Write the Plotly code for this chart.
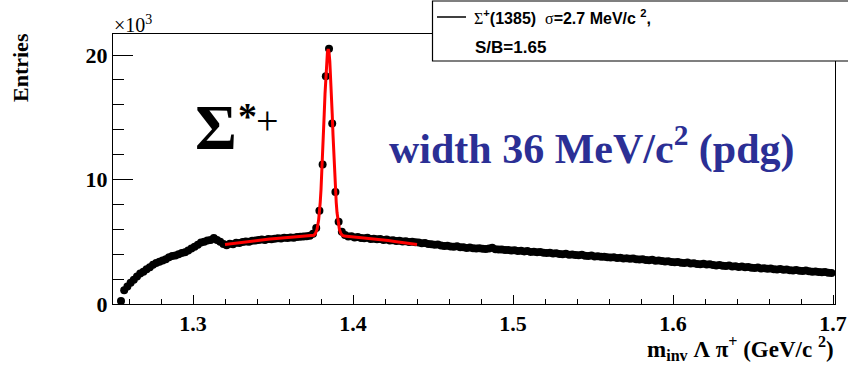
import plotly.graph_objects as go

# ---------------- data (entries in units of 10^3) ----------------
bin_first = 1.255   # GeV/c^2, centre of first bin
bin_width = 0.002   # GeV/c^2

counts_k = [
    # 1.255 - 1.313
    0.25, 1.10, 1.40, 1.70, 1.95, 2.20, 2.45, 2.60, 2.80, 2.95,
    3.15, 3.30, 3.40, 3.50, 3.60, 3.75, 3.85, 3.90, 4.00, 4.10,
    4.15, 4.30, 4.45, 4.60, 4.75, 4.95, 5.00, 5.10, 5.15, 5.30,
    # 1.315 - 1.373
    5.15, 5.00, 4.82, 4.72, 4.85, 4.80, 4.92, 4.90, 4.98, 5.02,
    5.00, 5.08, 5.10, 5.14, 5.18, 5.15, 5.22, 5.20, 5.25, 5.28,
    5.26, 5.32, 5.30, 5.35, 5.33, 5.38, 5.40, 5.42, 5.45, 5.48,
    # 1.375 - 1.393 (peak)
    5.65, 6.10, 7.50, 11.2, 18.3, 20.5, 14.5, 9.00, 6.60, 5.80,
    # 1.395 - 1.439
    5.55, 5.42, 5.45, 5.35, 5.38, 5.30, 5.28, 5.32, 5.22, 5.25,
    5.20, 5.22, 5.15, 5.18, 5.10, 5.12, 5.06, 5.08, 5.02, 5.04,
    4.98, 5.00, 4.96,
    # 1.441 - 1.699
    4.95, 4.88, 4.90, 4.82, 4.80, 4.76, 4.78, 4.70, 4.66, 4.68,
    4.62, 4.60, 4.64, 4.56, 4.55, 4.50, 4.53, 4.48, 4.46, 4.47,
    4.44, 4.42, 4.45, 4.52, 4.40, 4.37, 4.38, 4.34, 4.33, 4.30,
    4.32, 4.26, 4.28, 4.22, 4.25, 4.18, 4.20, 4.15, 4.17, 4.12,
    4.10, 4.12, 4.05, 4.08, 4.02, 4.00, 4.03, 3.96, 3.98, 3.93,
    3.92, 3.95, 3.88, 3.86, 3.89, 3.82, 3.84, 3.79, 3.80, 3.76,
    3.74, 3.76, 3.70, 3.72, 3.66, 3.68, 3.63, 3.65, 3.60, 3.58,
    3.60, 3.54, 3.52, 3.55, 3.48, 3.50, 3.45, 3.42, 3.44, 3.38,
    3.36, 3.38, 3.32, 3.30, 3.33, 3.26, 3.28, 3.22, 3.20, 3.23,
    3.17, 3.19, 3.13, 3.10, 3.14, 3.08, 3.06, 3.09, 3.02, 3.04,
    2.98, 3.01, 2.95, 2.97, 2.92, 2.90, 2.93, 2.86, 2.88, 2.83,
    2.85, 2.80, 2.78, 2.81, 2.75, 2.77, 2.72, 2.70, 2.73, 2.68,
    2.66, 2.69, 2.63, 2.60, 2.62, 2.57, 2.55, 2.58, 2.52, 2.50,
]
mass = [round(bin_first + i * bin_width, 4) for i in range(len(counts_k))]

# fit curve (Gaussian + background)
fit_mass = [
    1.320, 1.324, 1.328, 1.332, 1.336, 1.340, 1.344, 1.348, 1.352, 1.356,
    1.360, 1.364, 1.368, 1.372, 1.3745, 1.3755, 1.3765, 1.3775, 1.3785,
    1.379, 1.3795, 1.380, 1.3805, 1.381, 1.3815, 1.382, 1.3825, 1.383,
    1.3835, 1.384, 1.3845, 1.385, 1.3855, 1.386, 1.3865, 1.387, 1.3875,
    1.388, 1.3885, 1.389, 1.3895, 1.390, 1.3905, 1.3915, 1.3925, 1.3935,
    1.3945, 1.398, 1.402, 1.406, 1.410, 1.414, 1.418, 1.422, 1.426, 1.430,
    1.434, 1.438, 1.440,
]
fit_k = [
    4.78, 4.85, 4.92, 4.99, 5.05, 5.11, 5.17, 5.22, 5.27, 5.31,
    5.35, 5.38, 5.41, 5.44, 5.47, 5.52, 5.66, 5.99, 6.74,
    7.35, 8.17, 9.21, 10.49, 11.96, 13.57, 15.25, 16.88, 18.34,
    19.48, 20.22, 20.48, 20.22, 19.48, 18.34, 16.88, 15.25, 13.57,
    11.95, 10.48, 9.21, 8.17, 7.35, 6.74, 5.98, 5.65, 5.51,
    5.46, 5.42, 5.38, 5.34, 5.29, 5.23, 5.17, 5.10, 5.03, 4.96,
    4.89, 4.82, 4.78,
]

x_ticks = [1.3, 1.4, 1.5, 1.6, 1.7]
y_ticks = [0, 10, 20]

# ---------------- figure ----------------
W, H = 848, 365
L, R, T, B = 113, 13, 34, 61
PW, PH = W - L - R, H - T - B

def px(x):
    return (x - L) / PW

def py(y):
    return (H - B - y) / PH

SERIF = "Liberation Serif"
SANS = "Liberation Sans"

fig = go.Figure()
fig.add_trace(go.Scatter(
    x=mass, y=counts_k, mode="markers",
    marker=dict(color="black", size=8, line=dict(width=0)),
    showlegend=False, hoverinfo="skip", cliponaxis=False))
fig.add_trace(go.Scatter(
    x=fit_mass, y=fit_k, mode="lines",
    line=dict(color="#ff0000", width=3),
    showlegend=False, hoverinfo="skip"))

axis_common = dict(
    showgrid=False, zeroline=False, showline=True, linecolor="black",
    linewidth=1, mirror=True, ticks="inside", tickcolor="black",
    tickwidth=1, automargin=False,
    tickfont=dict(family=SERIF, size=22, color="black", weight="bold"),
)

fig.update_xaxes(
    range=[1.25, 1.7012], tickvals=x_ticks,
    ticktext=[f"{v:.1f}" for v in x_ticks], ticklen=9,
    minor=dict(dtick=0.02, tick0=1.3, ticklen=5, ticks="inside",
               tickcolor="black", tickwidth=1),
    **axis_common)
fig.update_yaxes(
    range=[0, 21.69], tickvals=y_ticks,
    ticktext=[str(v) for v in y_ticks], ticklen=20,
    minor=dict(dtick=2, tick0=0, ticklen=11, ticks="inside",
               tickcolor="black", tickwidth=1),
    **axis_common)

fig.update_layout(
    width=W, height=H, margin=dict(l=L, r=R, t=T, b=B, pad=0, autoexpand=False),
    plot_bgcolor="white", paper_bgcolor="white", showlegend=False)

ann = []
# y title
ann.append(dict(x=px(21), y=py(68), xref="paper", yref="paper",
                text="Entries", textangle=-90, showarrow=False,
                font=dict(family=SERIF, size=22, color="black", weight="bold"),
                xanchor="center", yanchor="middle"))
# x title
ann.append(dict(x=px(835), y=py(365), xref="paper", yref="paper",
                text="m<sub>inv</sub> Λ π<sup>+</sup> (GeV/c <sup>2</sup>)",
                showarrow=False, borderpad=0,
                font=dict(family=SERIF, size=23, color="black", weight="bold"),
                xanchor="right", yanchor="bottom"))
# x10^3
ann.append(dict(x=px(112), y=py(24), xref="paper", yref="paper",
                text="×10<sup>3</sup>", showarrow=False,
                font=dict(family=SERIF, size=20, color="black"),
                xanchor="left", yanchor="middle"))
# Sigma*+
ann.append(dict(x=px(193), y=py(128), xref="paper", yref="paper",
                text="Σ", showarrow=False,
                font=dict(family=SERIF, size=64, color="black", weight="bold"),
                xanchor="left", yanchor="middle"))
ann.append(dict(x=px(236), y=py(116), xref="paper", yref="paper",
                text="*", showarrow=False,
                font=dict(family=SERIF, size=38, color="black", weight="bold"),
                xanchor="left", yanchor="middle"))
ann.append(dict(x=px(254), y=py(121), xref="paper", yref="paper",
                text="+", showarrow=False,
                font=dict(family=SERIF, size=40, color="black"),
                xanchor="left", yanchor="middle"))
# blue width text
ann.append(dict(x=px(387), y=py(146), xref="paper", yref="paper",
                text="width 36 MeV/c<sup>2</sup> (pdg)", showarrow=False,
                font=dict(family=SERIF, size=42, color="#2b2f95", weight="bold"),
                xanchor="left", yanchor="middle"))
# legend texts
ann.append(dict(x=px(472), y=py(17), xref="paper", yref="paper",
                text="<span style='font-family:Liberation Serif;font-weight:normal'>Σ</span>"
                     "<sup>+</sup>(1385)\u00a0\u00a0"
                     "<span style='font-family:Liberation Serif;font-weight:normal'>σ</span>"
                     "=2.7 MeV/c <sup>2</sup>,",
                showarrow=False,
                font=dict(family=SANS, size=16, color="black", weight="bold"),
                xanchor="left", yanchor="middle"))
ann.append(dict(x=px(473), y=py(47), xref="paper", yref="paper",
                text="S/B=1.65", showarrow=False,
                font=dict(family=SANS, size=17, color="black", weight="bold"),
                xanchor="left", yanchor="middle"))
fig.update_layout(annotations=ann)

shapes = [
    dict(type="rect", xref="paper", yref="paper",
         x0=px(432.5), x1=px(852), y0=py(61), y1=py(1),
         fillcolor="white", line=dict(color="black", width=1.2), layer="above"),
    dict(type="line", xref="paper", yref="paper",
         x0=px(437), x1=px(466), y0=py(17), y1=py(17),
         line=dict(color="black", width=1.5), layer="above"),
]
fig.update_layout(shapes=shapes)

fig.write_html("out.html")
